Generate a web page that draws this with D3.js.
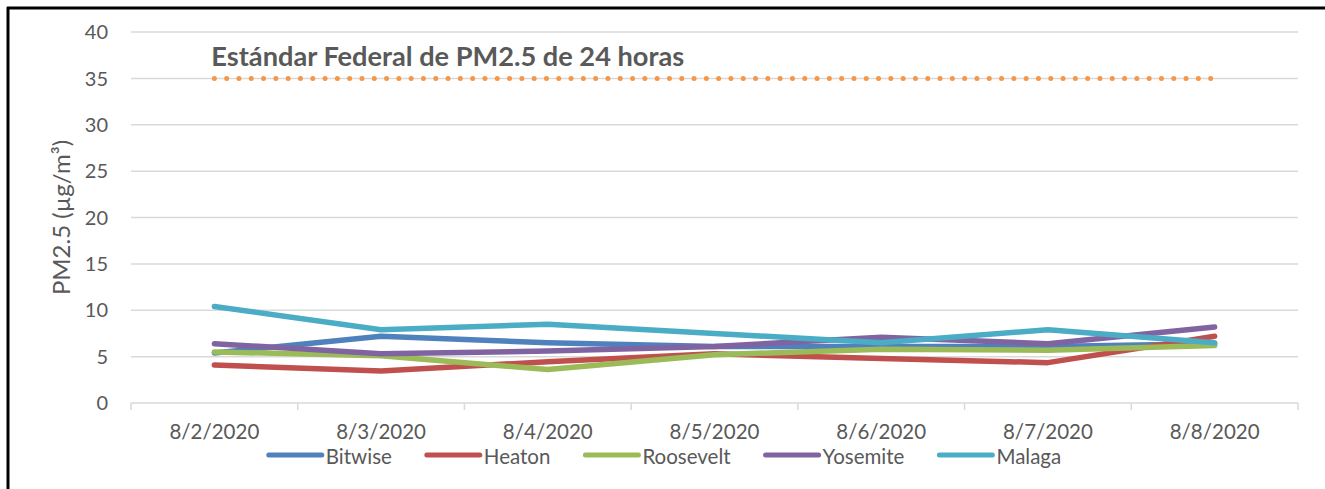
<!DOCTYPE html>
<html>
<head>
<meta charset="utf-8">
<script src="https://cdn.jsdelivr.net/npm/d3@7"></script>
<style>
  body { margin: 0; background: #fff; }
  svg { display: block; font-family: Lato, "Open Sans", sans-serif; }
</style>
</head>
<body>
<div id="chart"></div>
<script>
// data
var dates = ["8/2/2020", "8/3/2020", "8/4/2020", "8/5/2020", "8/6/2020", "8/7/2020", "8/8/2020"];
var bitwise   = [5.4, 7.2, 6.5, 6.1, 6.1, 6.1, 6.4];
var heaton    = [4.1, 3.45, 4.45, 5.3, 4.8, 4.35, 7.2];
var roosevelt = [5.5, 5.1, 3.6, 5.2, 5.8, 5.7, 6.2];
var yosemite  = [6.4, 5.3, 5.6, 6.1, 7.1, 6.4, 8.2];
var malaga    = [10.4, 7.9, 8.5, 7.5, 6.5, 7.9, 6.5];
var standard  = [35, 35, 35, 35, 35, 35, 35];
var yTicks = [0, 5, 10, 15, 20, 25, 30, 35, 40];

var seriesNames = ["Bitwise", "Heaton", "Roosevelt", "Yosemite", "Malaga"];
var seriesColors = ["#4f81bd", "#c0504d", "#9bbb59", "#8064a2", "#4bacc6"];
var seriesValues = [bitwise, heaton, roosevelt, yosemite, malaga];

var W = 1325, H = 489;
var margin = {top: 32, right: 27, bottom: 86, left: 131},
    width = W - margin.left - margin.right,
    height = H - margin.top - margin.bottom;

var svg = d3.select("#chart").append("svg")
    .attr("width", W)
    .attr("height", H);

// frame (left and top edges only are visible)
svg.append("line").attr("x1", 8).attr("x2", 8).attr("y1", 7).attr("y2", H)
  .attr("stroke", "#000").attr("stroke-width", 3);
svg.append("line").attr("x1", 7).attr("x2", W).attr("y1", 8).attr("y2", 8)
  .attr("stroke", "#000").attr("stroke-width", 3);

var g = svg.append("g")
    .attr("transform", "translate(" + margin.left + "," + margin.top + ")");

var x = d3.scaleBand().domain(dates).range([0, width]);
var y = d3.scaleLinear().domain([0, 40]).range([height, 0]);
var cx = function(d) { return x(d) + x.bandwidth() / 2; };

// gridlines
g.append("g").selectAll("line")
  .data(yTicks.filter(function(d) { return d > 0; }))
  .enter().append("line")
    .attr("x1", 0).attr("x2", width)
    .attr("y1", function(d) { return y(d); })
    .attr("y2", function(d) { return y(d); })
    .attr("stroke", "#d9d9d9")
    .attr("stroke-width", 1.5);

// y axis labels
g.append("g").selectAll("text")
  .data(yTicks)
  .enter().append("text")
    .attr("x", -23)
    .attr("y", function(d) { return y(d); })
    .attr("dy", "0.36em")
    .attr("text-anchor", "end")
    .attr("font-size", 20)
    .attr("fill", "#595959")
    .text(function(d) { return d; });

// x axis
var xAxis = g.append("g").attr("transform", "translate(0," + height + ")");
xAxis.append("line").attr("x1", 0).attr("x2", width)
  .attr("stroke", "#d9d9d9").attr("stroke-width", 1.5);
xAxis.selectAll(".tick")
  .data(dates.concat(["end"]))
  .enter().append("line")
    .attr("x1", function(d, i) { return i < dates.length ? x(d) : width; })
    .attr("x2", function(d, i) { return i < dates.length ? x(d) : width; })
    .attr("y1", 0).attr("y2", 7)
    .attr("stroke", "#d9d9d9").attr("stroke-width", 1.5);
xAxis.selectAll("text")
  .data(dates)
  .enter().append("text")
    .attr("x", cx)
    .attr("y", 36)
    .attr("text-anchor", "middle")
    .attr("font-size", 20.5)
    .attr("fill", "#595959")
    .text(function(d) { return d; });

// y axis title
svg.append("text")
  .attr("transform", "translate(70," + (margin.top + height / 2) + ") rotate(-90)")
  .attr("text-anchor", "middle")
  .attr("font-size", 24)
  .attr("fill", "#595959")
  .text("PM2.5 (µg/m³)");

// federal standard dotted line
var line = d3.line()
    .x(function(d, i) { return cx(dates[i]); })
    .y(function(d) { return y(d); });

g.append("path")
  .datum(standard)
  .attr("d", line)
  .attr("fill", "none")
  .attr("stroke", "#f79646")
  .attr("stroke-width", 5)
  .attr("stroke-linecap", "round")
  .attr("stroke-dasharray", "0 12.3");

g.append("text")
  .attr("x", cx(dates[0]) - 3)
  .attr("y", y(35) - 12)
  .attr("font-size", 27.2)
  .attr("font-weight", "bold")
  .attr("fill", "#595959")
  .text("Estándar Federal de PM2.5 de 24 horas");

// series lines
seriesValues.forEach(function(vals, k) {
  g.append("path")
    .datum(vals)
    .attr("d", line)
    .attr("fill", "none")
    .attr("stroke", seriesColors[k])
    .attr("stroke-width", 5.5)
    .attr("stroke-linejoin", "round")
    .attr("stroke-linecap", "round");
});

// legend
var legend = svg.append("g");
var pos = 0;
seriesNames.forEach(function(name, k) {
  var item = legend.append("g").attr("transform", "translate(" + pos + ",0)");
  item.append("line")
    .attr("x1", 2).attr("x2", 55)
    .attr("y1", 0).attr("y2", 0)
    .attr("stroke", seriesColors[k])
    .attr("stroke-width", 5)
    .attr("stroke-linecap", "round");
  var t = item.append("text")
    .attr("x", 59)
    .attr("y", 9)
    .attr("font-size", 20.5)
    .attr("fill", "#595959")
    .text(name);
  pos += 59 + t.node().getComputedTextLength() + 33;
});
pos -= 33;
legend.attr("transform", "translate(" + (664 - pos / 2) + ",455)");
</script>
</body>
</html>
